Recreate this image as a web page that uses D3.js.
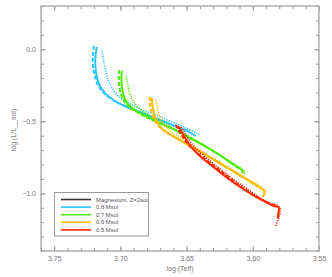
<!DOCTYPE html>
<html>
<head>
<meta charset="utf-8">
<script src="https://cdn.jsdelivr.net/npm/d3@7"></script>
<style>
  body { margin: 0; background: #fff; }
  text { font-family: "Liberation Sans", "DejaVu Sans", sans-serif; }
  .axis text { fill: #777; font-size: 7px; }
  .axis line { stroke: #999; stroke-width: 1; }
  .axis path { display: none; }
</style>
</head>
<body>
<script>
//tracks in (log Teff, log L/Lsol)
var mass08Solid = [[3.7178,0.016],[3.7189,-0.054],[3.7189,-0.123],[3.7178,-0.192],[3.7155,-0.255],[3.7110,-0.310],[3.7042,-0.359],[3.6951,-0.401],[3.6853,-0.435],[3.6763,-0.470],[3.6680,-0.498],[3.6589,-0.533],[3.6499,-0.567],[3.6431,-0.602]];
var mass08Dash = [[3.7200,0.023],[3.7208,-0.040],[3.7208,-0.116],[3.7193,-0.185],[3.7170,-0.248],[3.7125,-0.303],[3.7057,-0.352],[3.6967,-0.394],[3.6861,-0.435],[3.6763,-0.470],[3.6665,-0.505],[3.6567,-0.540],[3.6476,-0.574]];
var mass08Dot = [[3.7140,-0.012],[3.7125,-0.088],[3.7110,-0.158],[3.7087,-0.227],[3.7050,-0.290],[3.6997,-0.338],[3.6921,-0.380],[3.6831,-0.422],[3.6733,-0.456],[3.6627,-0.498],[3.6522,-0.540],[3.6424,-0.581],[3.6393,-0.600]];

var mass07Solid = [[3.6989,-0.151],[3.6993,-0.213],[3.6985,-0.283],[3.6967,-0.345],[3.6929,-0.394],[3.6868,-0.435],[3.6793,-0.470],[3.6703,-0.512],[3.6590,-0.560],[3.6476,-0.616],[3.6363,-0.672],[3.6250,-0.734],[3.6152,-0.797],[3.6077,-0.845],[3.6085,-0.860]];
var mass07Dash = [[3.7008,-0.144],[3.7012,-0.213],[3.7004,-0.283],[3.6982,-0.345],[3.6944,-0.394],[3.6876,-0.435],[3.6793,-0.477],[3.6687,-0.519],[3.6552,-0.574],[3.6401,-0.651],[3.6250,-0.734],[3.6099,-0.831]];
var mass07Dot = [[3.6959,-0.185],[3.6944,-0.248],[3.6929,-0.310],[3.6899,-0.366],[3.6853,-0.415],[3.6785,-0.456],[3.6703,-0.498],[3.6590,-0.554],[3.6439,-0.630],[3.6250,-0.734],[3.6062,-0.852],[3.6070,-0.870]];

var mass06Solid = [[3.6763,-0.338],[3.6755,-0.408],[3.6736,-0.477],[3.6703,-0.533],[3.6642,-0.581],[3.6567,-0.623],[3.6476,-0.672],[3.6378,-0.720],[3.6265,-0.783],[3.6152,-0.845],[3.6039,-0.908],[3.5964,-0.949],[3.5918,-0.977],[3.5911,-0.998],[3.5926,-1.026]];
var mass06Dash = [[3.6778,-0.331],[3.6774,-0.401],[3.6755,-0.470],[3.6718,-0.526],[3.6657,-0.574],[3.6567,-0.623],[3.6439,-0.686],[3.6288,-0.769],[3.6099,-0.873],[3.5933,-0.970]];
var mass06Dot = [[3.6733,-0.352],[3.6718,-0.422],[3.6695,-0.484],[3.6657,-0.540],[3.6597,-0.588],[3.6514,-0.637],[3.6401,-0.700],[3.6250,-0.783],[3.6062,-0.887],[3.5911,-0.977],[3.5903,-1.005]];

var mass05Solid = [[3.6567,-0.533],[3.6537,-0.574],[3.6506,-0.623],[3.6469,-0.672],[3.6424,-0.720],[3.6363,-0.769],[3.6288,-0.824],[3.6190,-0.894],[3.6084,-0.963],[3.5986,-1.019],[3.5903,-1.060],[3.5843,-1.088],[3.5805,-1.095],[3.5805,-1.130],[3.5813,-1.172]];
var mass05Dash = [[3.6582,-0.526],[3.6552,-0.574],[3.6514,-0.630],[3.6461,-0.686],[3.6378,-0.749],[3.6250,-0.840],[3.6062,-0.971],[3.5910,-1.054],[3.5820,-1.088]];
var mass05Dot = [[3.6544,-0.540],[3.6514,-0.581],[3.6476,-0.637],[3.6424,-0.693],[3.6348,-0.755],[3.6235,-0.840],[3.6062,-0.957],[3.5903,-1.054],[3.5798,-1.095],[3.5798,-1.151],[3.5828,-1.227]];

var massNames = ["0.8 Msol", "0.7 Msol", "0.6 Msol", "0.5 Msol"];
var massColors = ["#2cc4ff", "#4cee00", "#ffbc00", "#ff2a00"];
var legendNames = ["Magnesium, Z=2sol"].concat(massNames);
var legendColors = ["#333333"].concat(massColors);

var xTicks = [3.75, 3.70, 3.65, 3.60, 3.55];
var yTicks = [0.0, -0.5, -1.0];

//frame (plotTop etc, since "top" is taken by window)
var width = 332,
  height = 277,
  plotLeft = 41, plotRight = 319, plotTop = 6, plotBottom = 251;

var svg = d3.select("body")
  .append("svg")
  .attr("width", width)
  .attr("height", height);

svg.append("rect")
  .attr("width", width)
  .attr("height", height)
  .attr("fill", "#fff");

//x is reversed like an HR diagram
var x = d3.scaleLinear().domain([3.76, 3.55]).range([plotLeft, plotRight]);
var y = d3.scaleLinear().domain([-1.4, 0.3]).range([plotBottom, plotTop]);

var xMinor = d3.range(355, 377).map(function(d) { return d / 100; });
var yMinor = d3.range(-14, 4).map(function(d) { return d / 10; });

//major and minor ticks, pointing inward on all four sides
svg.append("g").attr("class", "axis")
  .attr("transform", "translate(0," + plotBottom + ")")
  .call(d3.axisBottom(x).tickValues(xMinor).tickSize(-3).tickFormat(""));
svg.append("g").attr("class", "axis")
  .attr("transform", "translate(0," + plotBottom + ")")
  .call(d3.axisBottom(x).tickValues(xTicks).tickSize(-5).tickPadding(5).tickFormat(d3.format(".2f")));
svg.append("g").attr("class", "axis")
  .attr("transform", "translate(0," + plotTop + ")")
  .call(d3.axisTop(x).tickValues(xMinor).tickSize(-3).tickFormat(""));
svg.append("g").attr("class", "axis")
  .attr("transform", "translate(0," + plotTop + ")")
  .call(d3.axisTop(x).tickValues(xTicks).tickSize(-5).tickFormat(""));

svg.append("g").attr("class", "axis")
  .attr("transform", "translate(" + plotLeft + ",0)")
  .call(d3.axisLeft(y).tickValues(yMinor).tickSize(-3).tickFormat(""));
svg.append("g").attr("class", "axis")
  .attr("transform", "translate(" + plotLeft + ",0)")
  .call(d3.axisLeft(y).tickValues(yTicks).tickSize(-5).tickPadding(5).tickFormat(d3.format(".1f")));
svg.append("g").attr("class", "axis")
  .attr("transform", "translate(" + plotRight + ",0)")
  .call(d3.axisRight(y).tickValues(yMinor).tickSize(-3).tickFormat(""));
svg.append("g").attr("class", "axis")
  .attr("transform", "translate(" + plotRight + ",0)")
  .call(d3.axisRight(y).tickValues(yTicks).tickSize(-5).tickFormat(""));

svg.append("rect")
  .attr("x", plotLeft)
  .attr("y", plotTop)
  .attr("width", plotRight - plotLeft)
  .attr("height", plotBottom - plotTop)
  .attr("fill", "none")
  .attr("stroke", "#aaa")
  .attr("stroke-width", 1.4);

//axis titles
svg.append("text")
  .attr("x", (plotLeft + plotRight) / 2)
  .attr("y", 271)
  .attr("text-anchor", "middle")
  .attr("fill", "#777")
  .style("font-size", "7px")
  .text("log (Teff)");

svg.append("text")
  .attr("transform", "translate(16," + 130 + ") rotate(-90)")
  .attr("text-anchor", "middle")
  .attr("fill", "#777")
  .style("font-size", "7px")
  .text("log (L/L__sol)");

//tracks
var line = d3.line()
  .x(function(d) { return x(d[0]); })
  .y(function(d) { return y(d[1]); })
  .curve(d3.curveCatmullRom);

var tracks = [
  [mass08Solid, mass08Dash, mass08Dot],
  [mass07Solid, mass07Dash, mass07Dot],
  [mass06Solid, mass06Dash, mass06Dot],
  [mass05Solid, mass05Dash, mass05Dot]
];
var styles = [
  { dash: null, w: 2 },
  { dash: "4,2", w: 2 },
  { dash: "1.2,1.3", w: 1.6 }
];

tracks.forEach(function(set, i) {
  set.forEach(function(track, j) {
    svg.append("path")
      .datum(track)
      .attr("d", line)
      .attr("fill", "none")
      .attr("stroke", massColors[i])
      .attr("stroke-width", styles[j].w)
      .attr("stroke-dasharray", styles[j].dash);
  });
});

//legend
var legend = svg.append("g");
legend.append("rect")
  .attr("x", 54.5)
  .attr("y", 192.5)
  .attr("width", 94)
  .attr("height", 43.5)
  .attr("fill", "#fff")
  .attr("stroke", "#999")
  .attr("stroke-width", 1);

var rows = legend.selectAll(".row")
  .data(legendNames)
  .enter()
  .append("g")
  .attr("transform", function(d, i) { return "translate(0," + (199.5 + i * 7.6) + ")"; });

rows.append("line")
  .attr("x1", 61).attr("x2", 91)
  .attr("stroke", function(d, i) { return legendColors[i]; })
  .attr("stroke-width", 1.6);

rows.append("text")
  .attr("x", 96)
  .attr("dy", "0.35em")
  .attr("fill", "#555")
  .style("font-size", "5.9px")
  .text(function(d) { return d; });
</script>
</body>
</html>
